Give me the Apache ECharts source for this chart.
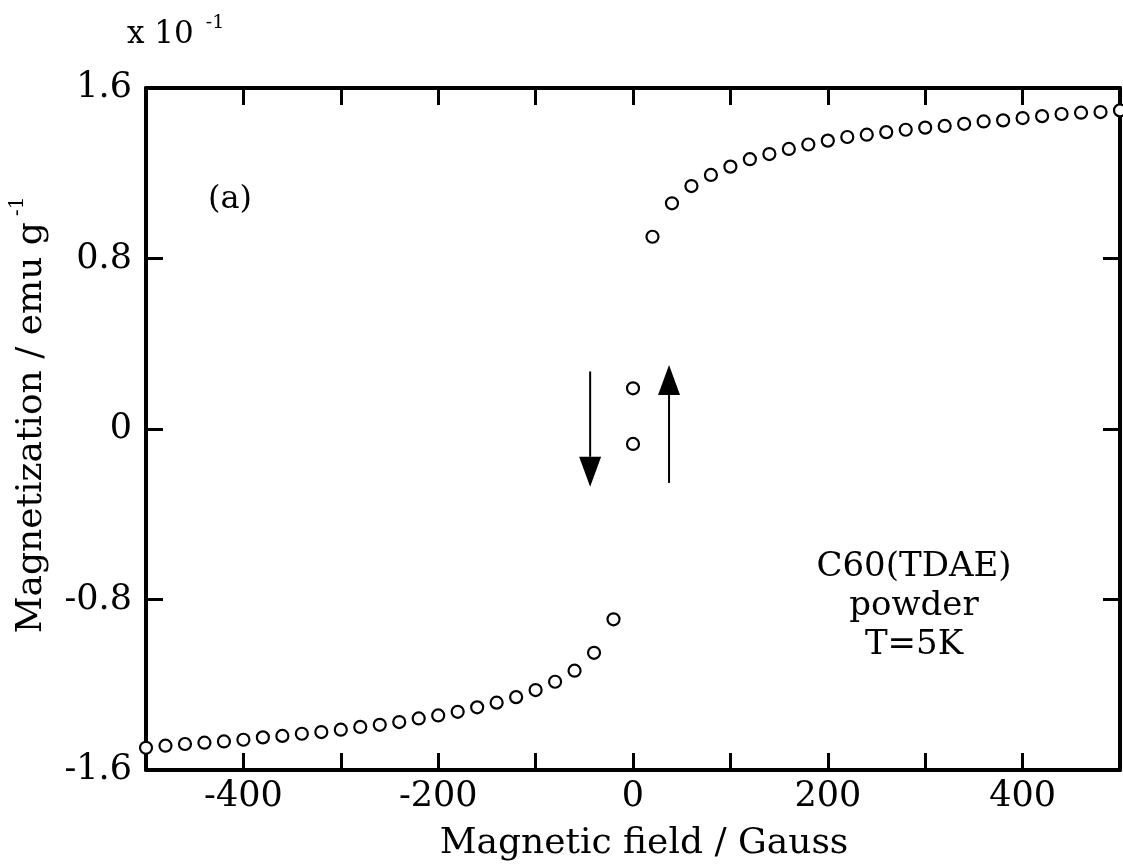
<!DOCTYPE html>
<html>
<head>
<meta charset="utf-8">
<script src="https://cdn.jsdelivr.net/npm/echarts@6/dist/echarts.min.js"></script>
<style>
  html, body { margin: 0; background: #fff; }
  #chart { width: 1123px; height: 867px; }
</style>
</head>
<body>
<div id="chart"></div>
<script>
// field sweep from -500 G up to -20 G (lower branch)
const fieldLow = [-500, -480, -460, -440, -420, -400, -380, -360, -340, -320, -300, -280, -260,
  -240, -220, -200, -180, -160, -140, -120, -100, -80, -60, -40, -20];
const magLow = [-1.496, -1.486, -1.478, -1.472, -1.466, -1.458, -1.447, -1.440, -1.430, -1.422,
  -1.411, -1.398, -1.388, -1.375, -1.358, -1.344, -1.327, -1.306, -1.284, -1.258, -1.225,
  -1.186, -1.134, -1.050, -0.893];
// the two points at zero field
const fieldZero = [0, 0];
const magZero = [0.191, -0.070];
// upper branch, 20 G .. 500 G
const fieldHigh = [20, 40, 60, 80, 100, 120, 140, 160, 180, 200, 220, 240, 260, 280, 300,
  320, 340, 360, 380, 400, 420, 440, 460, 480, 500];
const magHigh = [0.902, 1.059, 1.140, 1.192, 1.231, 1.266, 1.290, 1.314, 1.335, 1.353, 1.370,
  1.381, 1.393, 1.404, 1.414, 1.422, 1.432, 1.443, 1.448, 1.459, 1.468, 1.478, 1.484, 1.487, 1.495];
// sweep direction arrows: [x from, y from, x tip, y tip] in data units
const arrows = [
  [-44, 0.27, -44, -0.271],
  [37, -0.253, 37, 0.30]
];

const xTickLabels = [-400, -200, 0, 200, 400];

const font = 'DejaVu Serif';

function pairs(xs, ys) {
  return xs.map((x, i) => [x, ys[i]]);
}

const chart = echarts.init(document.getElementById('chart'), null, { renderer: 'canvas' });

const axisLine = { show: true, onZero: false, lineStyle: { color: '#000', width: 4 } };
const axisTick = { show: true, inside: true, length: 17, lineStyle: { color: '#000', width: 3 } };

const pointStyle = {
  type: 'scatter',
  symbol: 'circle',
  symbolSize: 12,
  itemStyle: { color: '#fff', borderColor: '#000', borderWidth: 2.2, opacity: 1 },
  emphasis: { disabled: true },
  silent: true,
  z: 5
};

// arrow: shaft plus a filled head, placed through the axes
function renderArrow(params, api) {
  const p1 = api.coord([api.value(0), api.value(1)]);
  const p2 = api.coord([api.value(2), api.value(3)]);
  const dir = p2[1] > p1[1] ? 1 : -1;
  const headLen = 30, headHalf = 11;
  const base = p2[1] - dir * headLen;
  return {
    type: 'group',
    children: [{
      type: 'line',
      shape: { x1: p1[0], y1: p1[1], x2: p2[0], y2: base },
      style: { stroke: '#000', lineWidth: 2 }
    }, {
      type: 'polygon',
      shape: { points: [[p2[0], p2[1]], [p2[0] - headHalf, base], [p2[0] + headHalf, base]] },
      style: { fill: '#000' }
    }]
  };
}

const option = {
  animation: false,
  backgroundColor: '#fff',
  grid: { left: 141, right: 3, top: 88, bottom: 97 },
  xAxis: [{
    type: 'value',
    min: -500, max: 500, interval: 100,
    axisLine: axisLine, axisTick: axisTick,
    splitLine: { show: false },
    axisLabel: {
      margin: 9,
      color: '#000', fontFamily: font, fontSize: 35,
      formatter: v => xTickLabels.indexOf(v) >= 0 ? String(v) : ''
    },
    name: 'Magnetic field / Gauss',
    nameLocation: 'middle',
    nameGap: 56,
    nameTextStyle: { color: '#000', fontFamily: font, fontSize: 36, padding: [0, 0, 0, 22] }
  }, {
    type: 'value', position: 'top',
    min: -500, max: 500, interval: 100,
    axisLine: axisLine, axisTick: axisTick,
    axisLabel: { show: false }, splitLine: { show: false }
  }],
  yAxis: [{
    type: 'value',
    min: -1.6, max: 1.6, interval: 0.8,
    axisLine: axisLine, axisTick: axisTick,
    splitLine: { show: false },
    axisLabel: {
      margin: 14,
      color: '#000', fontFamily: font, fontSize: 35,
      formatter: v => Math.abs(v) < 1e-9 ? '0' : v.toFixed(1)
    },
    name: '{n|Magnetization / emu g}{s|-1}',
    nameLocation: 'middle',
    nameRotate: 90,
    nameGap: 96,
    nameTextStyle: {
      padding: [0, 0, 0, 28],
      rich: {
        n: { color: '#000', fontFamily: font, fontSize: 36, lineHeight: 42, verticalAlign: 'bottom' },
        s: { color: '#000', fontFamily: font, fontSize: 20, lineHeight: 20, verticalAlign: 'top', padding: [0, 0, 0, 6] }
      }
    }
  }, {
    type: 'value', position: 'right',
    min: -1.6, max: 1.6, interval: 0.8,
    axisLine: axisLine, axisTick: axisTick,
    axisLabel: { show: false }, splitLine: { show: false }
  }],
  graphic: [{
    type: 'text', x: 127, y: 14,
    style: {
      text: '{n|x 10}{s|-1}',
      rich: {
        n: { fill: '#000', fontFamily: font, fontSize: 31, lineHeight: 36, verticalAlign: 'bottom' },
        s: { fill: '#000', fontFamily: font, fontSize: 19, lineHeight: 19, verticalAlign: 'top', padding: [0, 0, 0, 12] }
      }
    }
  }, {
    type: 'text', x: 230, y: 200,
    style: { text: '(a)', fill: '#000', fontFamily: font, fontSize: 32, align: 'center', verticalAlign: 'middle' }
  }, {
    type: 'text', x: 914, y: 606,
    style: {
      text: 'C60(TDAE)\npowder\nT=5K',
      fill: '#000', fontFamily: font, fontSize: 34, lineHeight: 39,
      align: 'center', verticalAlign: 'middle'
    }
  }],
  series: [
    Object.assign({ name: 'low', data: pairs(fieldLow, magLow) }, pointStyle),
    Object.assign({ name: 'zero', data: pairs(fieldZero, magZero) }, pointStyle),
    Object.assign({ name: 'high', data: pairs(fieldHigh, magHigh) }, pointStyle),
    {
      type: 'custom',
      renderItem: renderArrow,
      data: arrows,
      encode: { x: [0, 2], y: [1, 3] },
      silent: true,
      clip: false
    }
  ]
};

chart.setOption(option);
</script>
</body>
</html>
